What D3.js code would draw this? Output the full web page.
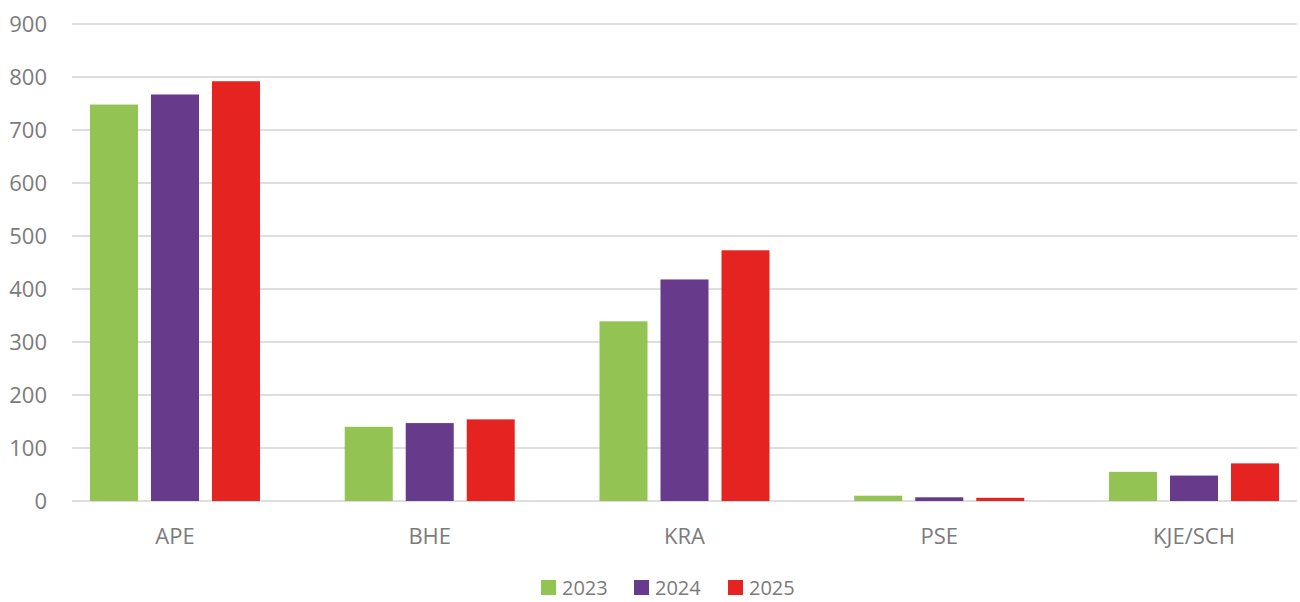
<!DOCTYPE html>
<html>
<head>
<meta charset="utf-8">
<script src="https://cdn.jsdelivr.net/npm/d3@7"></script>
<style>
  html, body { margin: 0; padding: 0; background: #fff; }
  svg { display: block; }
  text { font-family: "Open Sans", "Noto Sans", sans-serif; fill: #7b7b7b; }
</style>
</head>
<body>
<svg id="chart" width="1300" height="602"></svg>
<script>
const categories = ["APE", "BHE", "KRA", "PSE", "KJE/SCH"];
const seriesNames = ["2023", "2024", "2025"];
const values2023 = [748, 140, 339, 10, 55];
const values2024 = [767, 147, 418, 7, 48];
const values2025 = [792, 154, 473, 6, 71];
const seriesValues = [values2023, values2024, values2025];
const colors = ["#92c353", "#673a8c", "#e52421"];
const yTicks = [0, 100, 200, 300, 400, 500, 600, 700, 800, 900];

const svg = d3.select("#chart");

const y = d3.scaleLinear().domain([0, 900]).range([501, 24]);
const x0 = d3.scaleBand().domain(categories).range([47.6, 1321.4]).paddingInner(0).paddingOuter(0);
const innerPad = (x0.bandwidth() - 170) / 2;
const x1 = d3.scaleBand().domain(seriesNames).range([innerPad, innerPad + 170]).paddingInner(0.213).paddingOuter(0);

// gridlines
const grid = svg.append("g");
grid.selectAll("line").data(yTicks).enter().append("line")
  .attr("x1", 72).attr("x2", 1297)
  .attr("y1", d => y(d)).attr("y2", d => y(d))
  .attr("stroke", "#dedede").attr("stroke-width", 2);

// y axis labels via d3 axis
const yAxis = d3.axisLeft(y).tickValues(yTicks).tickSize(0).tickPadding(0);
const yg = svg.append("g").attr("transform", "translate(47,0)").call(yAxis);
yg.select(".domain").remove();
yg.selectAll("text").style("font-size", "22px").attr("fill", "#7b7b7b")
  .style("font-family", "'Open Sans', sans-serif").attr("dy", "0.35em");

// bars
const groups = svg.append("g").selectAll("g").data(categories).enter().append("g")
  .attr("transform", c => `translate(${x0(c)},0)`);
groups.selectAll("rect")
  .data((c, i) => seriesNames.map((s, j) => ({ s, j, v: seriesValues[j][i] })))
  .enter().append("rect")
  .attr("x", d => x1(d.s))
  .attr("width", x1.bandwidth())
  .attr("y", d => y(d.v))
  .attr("height", d => y(0) - y(d.v))
  .attr("fill", d => colors[d.j]);

// x axis labels
const xAxis = d3.axisBottom(x0).tickSize(0).tickPadding(0);
const xg = svg.append("g").attr("transform", "translate(0,536)").call(xAxis);
xg.select(".domain").remove();
xg.selectAll("text").style("font-size", "22px").attr("fill", "#7b7b7b")
  .style("font-family", "'Open Sans', sans-serif").attr("dy", "0.35em").attr("y", 0);

// legend
const legendX = [541, 634, 728];
const leg = svg.append("g").selectAll("g").data(seriesNames).enter().append("g")
  .attr("transform", (d, i) => `translate(${legendX[i]},580)`);
leg.append("rect").attr("width", 15).attr("height", 15).attr("fill", (d, i) => colors[i]);
leg.append("text").attr("x", 21).attr("y", 7.5).attr("dy", "0.35em")
  .style("font-size", "20px").text(d => d);
</script>
</body>
</html>
